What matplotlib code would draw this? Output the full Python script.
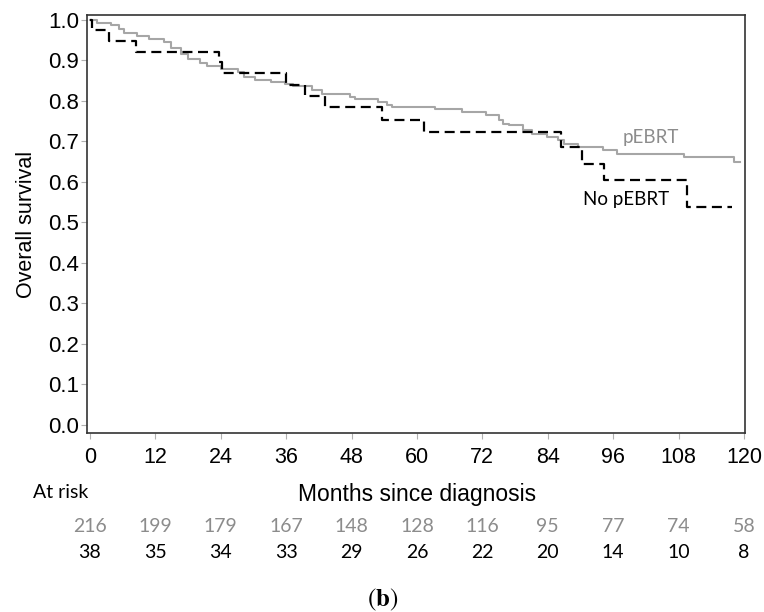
import matplotlib
matplotlib.use('Agg')
import matplotlib.pyplot as plt
from matplotlib.transforms import blended_transform_factory

plt.rcParams['mathtext.fontset'] = 'stix'

# Kaplan-Meier step points (months, survival)
peb_t = [0, 1.3, 3.9, 5.3, 6.3, 8.7, 10.9, 13.6, 14.9, 16.7, 17.9, 20.1, 21.5, 24.1,
         27.1, 28.3, 30.2, 33.3, 35.7, 37.2, 40.7, 42.5, 47.7, 48.6, 52.8, 54.5, 55.4,
         63.3, 68.3, 72.7, 75.1, 75.8, 76.8, 79.5, 81.2, 83.9, 85.8, 86.9, 89.5, 94.1,
         96.8, 109.0, 118.2, 119.3]
peb_s = [1.0, 0.993, 0.988, 0.978, 0.968, 0.961, 0.953, 0.946, 0.931, 0.916, 0.904, 0.894,
         0.887, 0.879, 0.872, 0.860, 0.851, 0.847, 0.842, 0.836, 0.826, 0.818, 0.809, 0.804,
         0.798, 0.789, 0.785, 0.779, 0.773, 0.764, 0.752, 0.744, 0.740, 0.727, 0.719, 0.711,
         0.703, 0.694, 0.686, 0.678, 0.670, 0.661, 0.650, 0.650]

no_t = [0, 0.3, 3.5, 8.4, 23.7, 24.2, 35.9, 39.4, 43.2, 53.6, 61.3, 86.5, 90.3, 94.3,
        109.5, 117.8]
no_s = [1.0, 0.974, 0.947, 0.921, 0.895, 0.868, 0.838, 0.812, 0.784, 0.754, 0.724, 0.686,
        0.645, 0.604, 0.539, 0.539]

risk_months = [0, 12, 24, 36, 48, 60, 72, 84, 96, 108, 120]
risk_peb = [216, 199, 179, 167, 148, 128, 116, 95, 77, 74, 58]
risk_no = [38, 35, 34, 33, 29, 26, 22, 20, 14, 10, 8]

W, H = 764, 612


def fx(px):
    return px / W


def fy(py):
    return 1 - py / H


fig = plt.figure(figsize=(W / 100, H / 100), dpi=100)
ax = fig.add_axes([87 / W, 1 - 433 / H, (745 - 87) / W, (433 - 15) / H])

gray = '#a6a6a6'
ax.step(peb_t, peb_s, where='post', color=gray, lw=1.5)
ax.step(no_t, no_s, where='post', color='black', lw=1.6, dashes=(4.5, 2.5))

ax.set_xlim(-0.55, 120.2)
ax.set_ylim(-0.02, 1.012)
ax.set_yticks([i / 10 for i in range(11)])
ax.set_yticklabels(['%.1f' % (i / 10) for i in range(11)],
                   family='Liberation Sans', fontsize=16)
ax.set_xticks(risk_months)
ax.set_xticklabels([str(m) for m in risk_months],
                   family='Liberation Sans', fontsize=15.5)
ax.tick_params(axis='both', color='#b0b0b0', length=4, width=0.8)
ax.tick_params(axis='x', pad=6)
ax.tick_params(axis='y', pad=1.5)
for sp in ax.spines.values():
    sp.set_linewidth(1.2)
    sp.set_color('#333333')

ax.set_ylabel('Overall survival', family='Liberation Sans', fontsize=15.5, labelpad=8)

fig.text(fx(623), fy(137), 'pEBRT', family='Lato', fontsize=13.5, color='#8c8c8c',
         ha='left', va='center')
fig.text(fx(583), fy(200), 'No pEBRT', family='Lato', fontsize=13.5, color='black',
         ha='left', va='center')

fig.text(fx(33), fy(492), 'At risk', family='Lato', fontsize=14, ha='left', va='center')
fig.text(fx(417), fy(495), 'Months since diagnosis', family='Liberation Sans',
         fontsize=16.5, ha='center', va='center')

tr = blended_transform_factory(ax.transData, fig.transFigure)
for m, a, b in zip(risk_months, risk_peb, risk_no):
    ax.text(m, fy(526), str(a), transform=tr, family='Lato', fontsize=14,
            color='#8c8c8c', ha='center', va='center')
    ax.text(m, fy(553), str(b), transform=tr, family='Lato', fontsize=14,
            color='black', ha='center', va='center')

fig.text(fx(383), fy(600), r'($\mathbf{b}$)', family='STIXGeneral', fontsize=18,
         ha='center', va='center')

fig.savefig('out.png', dpi=100)
